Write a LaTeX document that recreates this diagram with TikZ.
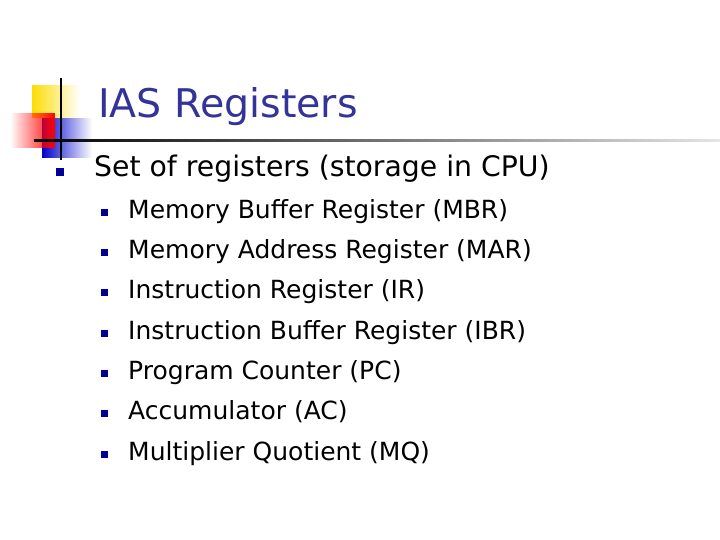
\documentclass[tikz,border=0pt]{standalone}
\usepackage{fontspec}
\setmainfont{DejaVu Sans}
\usetikzlibrary{fadings}
\definecolor{navy}{HTML}{000099}
\definecolor{ttl}{HTML}{333399}
\tikzset{bul/.style={fill=navy,minimum size=7pt,inner sep=0pt},
 txt/.style={anchor=base west,inner sep=0pt}}
\begin{document}
\begin{tikzpicture}[x=1pt,y=-1pt]
\useasboundingbox (0,0) rectangle (720,540);
\fill[yellow!80!orange,path fading=east] (32,85) rectangle (80,118);
\fill[blue!80!black,path fading=east] (42,118) rectangle (92,158);
\fill[red,path fading=west] (10,113) rectangle (55,148);
\draw[line width=2pt] (61,78) -- (61,160);
\shade[left color=black,right color=black!10] (34,140) rectangle (720,142);
\node[txt,text=ttl,font=\fontsize{39.5}{44}\selectfont] (t) at (98,118) {IAS Registers};
\node[bul,minimum size=8pt] (b0) at (60,172) {};
\node[txt,font=\fontsize{28.3}{32}\selectfont] (l0) at (94,177) {Set of registers (storage in CPU)};
\foreach \s [count=\i] in {Memory Buffer Register (MBR),Memory Address Register (MAR),Instruction Register (IR),Instruction Buffer Register (IBR),Program Counter (PC),Accumulator (AC),Multiplier Quotient (MQ)}{
 \node[bul] (s\i) at (104,{172+40.3*\i}) {};
 \node[txt,font=\fontsize{25}{28}\selectfont] (l\i) at (128,{178+40.3*\i}) {\s};
}
\end{tikzpicture}
\end{document}
